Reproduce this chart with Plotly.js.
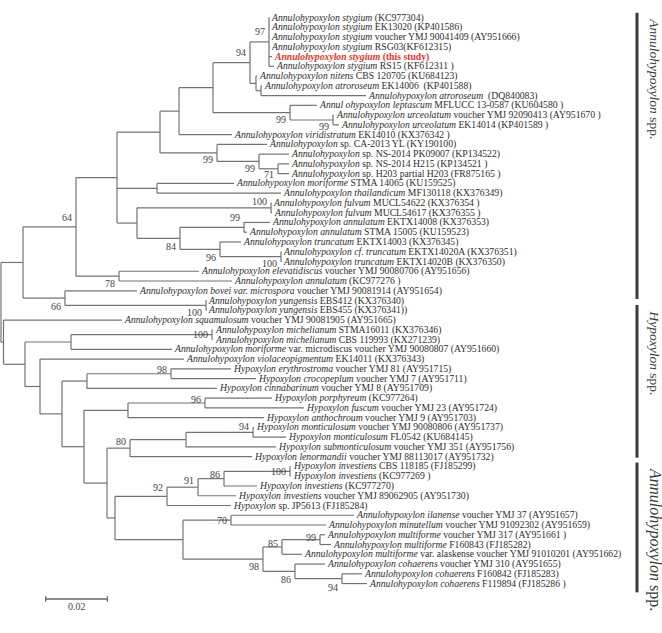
<!DOCTYPE html>
<html>
<head>
<meta charset="utf-8">
<script src="https://cdn.plot.ly/plotly-3.0.1.min.js"></script>
<style>
  html, body { margin: 0; padding: 0; background: #ffffff; }
  #chart { width: 662px; height: 633px; }
</style>
</head>
<body>
<div id="chart"></div>
<script>
// ---------------- DATA ----------------
// Taxon labels (leaf order top to bottom); t1..t59 in the Newick string refer to these.
const taxa = [
  "<i>Annulohypoxylon stygium</i> (KC977304)",
  "<i>Annulohypoxylon stygium</i> EK13020 (KP401586)",
  "<i>Annulohypoxylon stygium</i> voucher YMJ 90041409 (AY951666)",
  "<i>Annulohypoxylon stygium</i> RSG03(KF612315)",
  "<b><i>Annulohypoxylon stygium</i> (this study)</b>",
  "<i>Annulohypoxylon stygium</i> RS15 (KF612311 )",
  "<i>Annulohypoxylon nitens</i> CBS 120705 (KU684123)",
  "<i>Annulohypoxylon atroroseum</i> EK14006  (KP401588)",
  "<i>Annulohypoxylon atroroseum</i>  (DQ840083)",
  "<i>Annul ohypoxylon leptascum</i> MFLUCC 13-0587 (KU604580 )",
  "<i>Annulohypoxylon urceolatum</i> voucher YMJ 92090413 (AY951670 )",
  "<i>Annulohypoxylon urceolatum</i> EK14014 (KP401589 )",
  "<i>Annulohypoxylon viridistratum</i> EK14010 (KX376342 )",
  "<i>Annulohypoxylon</i> sp. CA-2013 YL (KY190100)",
  "<i>Annulohypoxylon</i> sp. NS-2014 PK09007 (KP134522)",
  "<i>Annulohypoxylon</i> sp. NS-2014 H215 (KP134521 )",
  "<i>Annulohypoxylon</i> sp. H203 partial H203 (FR875165 )",
  "<i>Annulohypoxylon moriforme</i> STMA 14065 (KU159525)",
  "<i>Annulohypoxylon thailandicum</i> MF130118 (KX376349)",
  "<i>Annulohypoxylon fulvum</i> MUCL54622 (KX376354 )",
  "<i>Annulohypoxylon fulvum</i> MUCL54617 (KX376355 )",
  "<i>Annulohypoxylon annulatum</i> EKTX14008 (KX376353)",
  "<i>Annulohypoxylon annulatum</i> STMA 15005 (KU159523)",
  "<i>Annulohypoxylon truncatum</i> EKTX14003 (KX376345)",
  "<i>Annulohypoxylon cf. truncatum</i> EKTX14020A (KX376351)",
  "<i>Annulohypoxylon truncatum</i> EKTX14020B (KX376350)",
  "<i>Annulohypoxylon elevatidiscus</i> voucher YMJ 90080706 (AY951656)",
  "<i>Annulohypoxylon annulatum</i> (KC977276 )",
  "<i>Annulohypoxylon bovei var. microspora</i> voucher YMJ 90081914 (AY951654)",
  "<i>Annulohypoxylon yungensis</i> EBS412 (KX376340)",
  "<i>Annulohypoxylon yungensis</i> EBS455 (KX376341))",
  "<i>Annulohypoxylon squamulosum</i> voucher YMJ 90081905 (AY951665)",
  "<i>Annulohypoxylon michelianum</i> STMA16011 (KX376346)",
  "<i>Annulohypoxylon michelianum</i> CBS 119993 (KX271239)",
  "<i>Annulohypoxylon moriforme</i> var. microdiscus voucher YMJ 90080807 (AY951660)",
  "<i>Annulohypoxylon violaceopigmentum</i> EK14011 (KX376343)",
  "<i>Hypoxylon erythrostroma</i> voucher YMJ 81 (AY951715)",
  "<i>Hypoxylon crocopeplum</i> voucher YMJ 7 (AY951711)",
  "<i>Hypoxylon cinnabarinum</i> voucher YMJ 8 (AY951709)",
  "<i>Hypoxylon porphyreum</i> (KC977264)",
  "<i>Hypoxylon fuscum</i> voucher YMJ 23 (AY951724)",
  "<i>Hypoxylon anthochroum</i> voucher YMJ 9 (AY951703)",
  "<i>Hypoxylon monticulosum</i> voucher YMJ 90080806 (AY951737)",
  "<i>Hypoxylon monticulosum</i> FL0542 (KU684145)",
  "<i>Hypoxylon submonticulosum</i> voucher YMJ 351 (AY951756)",
  "<i>Hypoxylon lenormandii</i> voucher YMJ 88113017 (AY951732)",
  "<i>Hypoxylon investiens</i> CBS 118185 (FJ185299)",
  "<i>Hypoxylon investiens</i> (KC977269 )",
  "<i>Hypoxylon investiens</i> (KC977270)",
  "<i>Hypoxylon investiens</i> voucher YMJ 89062905 (AY951730)",
  "<i>Hypoxylon</i> sp. JP5613 (FJ185284)",
  "<i>Annulohypoxylon ilanense</i> voucher YMJ 37 (AY951657)",
  "<i>Annulohypoxylon minutellum</i> voucher YMJ 91092302 (AY951659)",
  "<i>Annulohypoxylon multiforme</i> voucher YMJ 317 (AY951661 )",
  "<i>Annulohypoxylon multiforme</i> F160843 (FJ185282)",
  "<i>Annulohypoxylon multiforme</i> var. alaskense voucher YMJ 91010201 (AY951662)",
  "<i>Annulohypoxylon cohaerens</i> voucher YMJ 310 (AY951655)",
  "<i>Annulohypoxylon cohaerens</i> F160842 (FJ185283)",
  "<i>Annulohypoxylon cohaerens</i> F119894 (FJ185286 )"
];

// Tree topology, branch lengths (substitutions/site) and bootstrap support (internal labels)
const newick =
  "(((((((((t1:0.00016,t2:0.00016,t3:0.00016,t4:0.00016,t5:0.00097,t6:0.00162)97:0.00616," +
  "(t7:0.00032,(t8:0.00032,t9:0.03404):0.00162):0.00194)94:0.01199," +
  "(t10:0.00875,(t11:0.00032,t12:0.00194)99:0.01394)99:0.02496):0.01102," +
  "t13:0.01718):0.00616," +
  "(t14:0.01621,(t15:0.00972,(t16:0.00357,t17:0.00357)71:0.00616)99:0.01361)99:0.01848):0.01394," +
  "(t18:0.02496,t19:0.04019):0.01297," +
  "((t20:0.00016,t21:0.00032)100:0.04344,((t22:0.00843,t23:0.00097)99:0.02075,(t24:0.00681,(t25:0.00016,t26:0.00016)100:0.01977)96:0.01297)84:0.01394):0.00648):0.01329," +
  "(t27:0.02593,t28:0.03663)78:0.01394)64:0.01718," +
  "(t29:0.02334,(t30:0.00016,t31:0.00016)100:0.04571)66:0.01361):0.00713," +
  "(t32:0.03841,(((t33:0.00016,t34:0.00016)100:0.04571,t35:0.03274):0.01491," +
  "(t36:0.04668,(((t37:0.01945,t38:0.02755)98:0.02723,t39:0.04214):0.00810," +
  "(((t40:0.02172,t41:0.03209)96:0.02496,t42:0.04408):0.01426," +
  "((((t43:0.00032,t44:0.01070)94:0.02172,t45:0.02917):0.01815,t46:0.03955)80:0.00746," +
  "(((((t47:0.00016,t48:0.00016)100:0.02139,t49:0.01070)86:0.00843,t50:0.01232)91:0.01005,t51:0.02075)92:0.01686," +
  "((t52:0.03987,t53:0.03079)70:0.01556,(((t54:0.00162,t55:0.00357)99:0.01232,t56:0.00648)85:0.00616,(t57:0.00972,(t58:0.00648,t59:0.00810)94:0.01523)86:0.01037)98:0.02593):0.02204" +
  "):0.00259):0.00746):0.00713):0.00713):0.00486):0.00697):0.00081);";

const cladeNames = ["<i>Annulohypoxylon</i> spp.", "<i>Hypoxylon</i> spp.", "<i>Annulohypoxylon</i> spp."];
const scaleBarLength = 0.02;
const scaleBarLabel = "0.02";

// ---------------- STYLE / PLACEMENT ----------------
const highlightTaxon = 5;                 // red label
const cladeBarRows = [[0.52, 29.85], [30.45, 46.1], [46.6, 59.9]];   // extent of the side bars (row units)
const cladeFontSize = [13.5, 13.5, 16];
// bootstrap label vertical offset in px (positive = below node), keyed by "firstLeaf-lastLeaf"
const bsOffset = {
  "1-6": -10, "1-9": -10, "10-12": 6.7, "11-12": 6.3, "14-17": 7, "15-17": 6.8, "16-17": 6.2,
  "20-21": -6.7, "22-23": -9.4, "22-26": 8.2, "24-26": 8.3, "25-26": 6.8, "1-28": -9,
  "27-28": 7.6, "29-31": 7.9, "30-31": 7.5, "33-34": 0, "37-38": -3.8, "40-41": -4,
  "43-44": -6, "43-46": -6.3, "47-48": 0, "47-49": -4, "47-50": -7, "47-51": -8.7,
  "52-53": 0, "54-55": -2.5, "54-56": -3.3, "54-59": 7.6, "57-59": 8.1, "58-59": 8.5
};
const PX_PER_UNIT = 3085;   // horizontal scale
const ROW_PX = 9.76;        // vertical spacing
const FIRST_ROW_PX = 17.5;
const W = 662, H = 633;

// ---------------- PARSE & LAYOUT ----------------
function parseNewick(s) {
  let i = 0;
  function node() {
    const n = { children: [], name: "", len: 0 };
    if (s[i] === "(") {
      i++;
      n.children.push(node());
      while (s[i] === ",") { i++; n.children.push(node()); }
      i++; // ')'
    }
    let name = "";
    while (i < s.length && !":,);".includes(s[i])) name += s[i++];
    n.name = name;
    if (s[i] === ":") {
      i++;
      let num = "";
      while (i < s.length && !",);".includes(s[i])) num += s[i++];
      n.len = parseFloat(num);
    }
    return n;
  }
  return node();
}

const root = parseNewick(newick);
let rowCounter = 0;
function layout(n, depth) {
  n.x = depth;
  if (n.children.length === 0) {
    rowCounter++;
    n.y = rowCounter;
    n.leaf = parseInt(n.name.slice(1), 10);
    n.first = n.last = n.leaf;
  } else {
    n.children.forEach(c => layout(c, depth + c.len));
    n.y = (n.children[0].y + n.children[n.children.length - 1].y) / 2;
    n.first = n.children[0].first;
    n.last = n.children[n.children.length - 1].last;
  }
}
layout(root, 0);

const lx = [], ly = [];
const annotations = [];
const labelFont = { family: "Liberation Serif, Times New Roman, serif", size: 9.7, color: "#2e2e2e" };
const bsFont = { family: "Liberation Serif, Times New Roman, serif", size: 10, color: "#444444" };

function walk(n) {
  if (n.children.length) {
    const a = n.children[0], b = n.children[n.children.length - 1];
    lx.push(n.x, n.x, null); ly.push(a.y, b.y, null);
    n.children.forEach(c => {
      lx.push(n.x, c.x, null); ly.push(c.y, c.y, null);
      walk(c);
    });
    if (n.name !== "" && !isNaN(parseFloat(n.name))) {
      const key = n.first + "-" + n.last;
      const off = (key in bsOffset) ? bsOffset[key] : -6;
      annotations.push({
        x: n.x, y: n.y, xref: "x", yref: "y", text: n.name, showarrow: false,
        xanchor: "right", yanchor: "middle", xshift: -2, yshift: -off, font: bsFont
      });
    }
  } else {
    const isHi = n.leaf === highlightTaxon;
    annotations.push({
      x: n.x, y: n.y, xref: "x", yref: "y", text: taxa[n.leaf - 1], showarrow: false,
      xanchor: "left", yanchor: "middle", xshift: 0,
      font: isHi ? Object.assign({}, labelFont, { color: "#e8332b" }) : labelFont
    });
  }
}
walk(root);

// axis ranges so that data units map to the picture geometry
const xMin = -1 / PX_PER_UNIT, xMax = (W - 1) / PX_PER_UNIT;
const yTop = 1 - FIRST_ROW_PX / ROW_PX, yBottom = 1 + (H - FIRST_ROW_PX) / ROW_PX;
const rowAtPx = px => 1 + (px - FIRST_ROW_PX) / ROW_PX;

// scale bar
const sbX0 = 44.7 / PX_PER_UNIT, sbRow = rowAtPx(599), tick = 0.28;
const sbTrace = {
  x: [sbX0, sbX0 + scaleBarLength, null, sbX0, sbX0, null, sbX0 + scaleBarLength, sbX0 + scaleBarLength],
  y: [sbRow, sbRow, null, sbRow - tick, sbRow + tick, null, sbRow - tick, sbRow + tick],
  mode: "lines", line: { color: "#666666", width: 1.3 }, hoverinfo: "skip", showlegend: false
};
annotations.push({
  x: sbX0 + scaleBarLength / 2, y: rowAtPx(606.7), xref: "x", yref: "y", text: scaleBarLabel,
  showarrow: false, xanchor: "center", yanchor: "middle", font: bsFont
});

// clade bars + labels
const shapes = [];
cladeBarRows.forEach((r, k) => {
  shapes.push({ type: "line", xref: "paper", yref: "y", x0: 637 / W, x1: 637 / W, y0: r[0], y1: r[1],
    line: { color: "#3a3a3a", width: 3 } });
  annotations.push({
    x: 655 / W, y: r[0], xref: "paper", yref: "y", text: cladeNames[k], showarrow: false,
    textangle: 90, xanchor: "center", yanchor: "top", yshift: -3,
    font: { family: "Liberation Serif, Times New Roman, serif", size: cladeFontSize[k], color: "#3a3a3a" }
  });
});

const treeTrace = {
  x: lx, y: ly, mode: "lines", line: { color: "#737373", width: 1.2 },
  hoverinfo: "skip", showlegend: false
};

Plotly.newPlot("chart", [treeTrace, sbTrace], {
  width: W, height: H,
  margin: { l: 0, r: 0, t: 0, b: 0, pad: 0 },
  paper_bgcolor: "#ffffff", plot_bgcolor: "#ffffff",
  xaxis: { range: [xMin, xMax], visible: false, fixedrange: true },
  yaxis: { range: [yBottom, yTop], visible: false, fixedrange: true },
  annotations: annotations, shapes: shapes, showlegend: false
}, { displayModeBar: false, staticPlot: true });
</script>
</body>
</html>
